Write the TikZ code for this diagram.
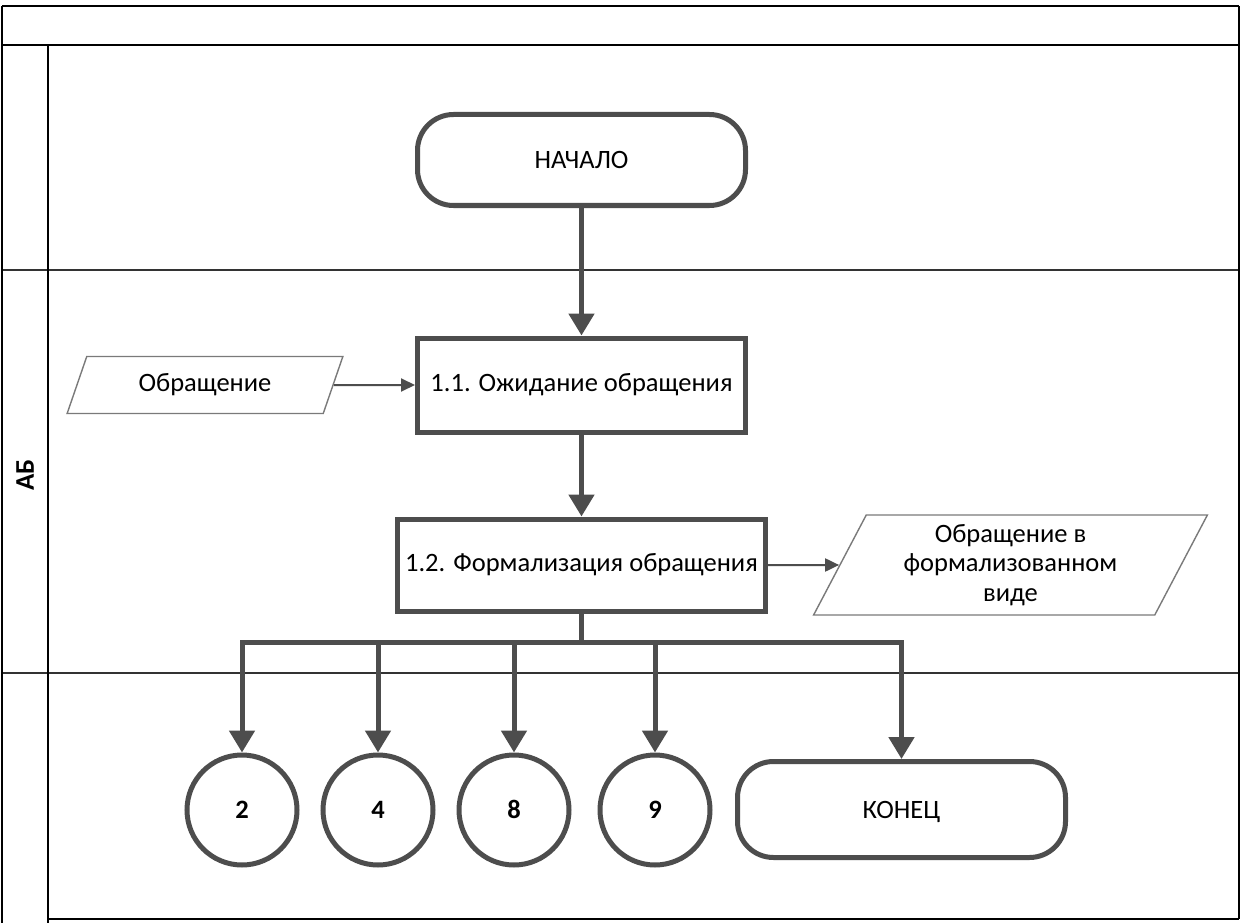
\documentclass[tikz,border=0pt]{standalone}
\usepackage{fontspec}
\setmainfont{Carlito}
\usetikzlibrary{arrows.meta,shapes.geometric}
\definecolor{dg}{HTML}{4D4D4D}
\definecolor{lg}{HTML}{7A7A7A}
\begin{document}
\begin{tikzpicture}[x=1pt,y=-1pt,
  txt/.style={font=\fontsize{26.5}{29.5}\selectfont},
  frameline/.style={line width=1.6pt,black},
  laneline/.style={line width=1.3pt,black!80},
  procbox/.style={txt,draw=dg,line width=5pt,rectangle,inner sep=0pt,align=center},
  termbox/.style={txt,draw=dg,line width=5pt,rectangle,rounded corners=36pt,inner sep=0pt,text height=17pt,text depth=0pt},
  linkcirc/.style={font=\fontsize{26.5}{29.5}\selectfont\bfseries,draw=dg,line width=5pt,circle,minimum size=110pt,inner sep=0pt,text height=17pt,text depth=0pt},
  iobox/.style={txt,draw=lg,line width=1.4pt,trapezium,trapezium stretches=true,inner sep=0pt,align=center},
  conn/.style={draw=dg,line width=5pt},
  connarrow/.style={conn,-{Triangle[length=22pt,width=25pt]}},
  thinarrow/.style={draw=dg,line width=2pt,-{Triangle[length=14pt,width=13pt]}}
]
\useasboundingbox (0,0) rectangle (1243,923);
\fill[white] (0,0) rectangle (1243,923);

% frame and lanes
\draw[frameline] (2,6) -- (1239,6);
\draw[frameline] (2,45) -- (1239,45);
\draw[laneline] (2,270) -- (1239,270);
\draw[laneline] (2,673) -- (1239,673);
\draw[frameline] (48,919) -- (1239,919);
\draw[frameline] (2,6) -- (2,923);
\draw[frameline] (48,45) -- (48,923);
\draw[frameline] (1239,6) -- (1239,919);

\node[font=\fontsize{27}{30}\selectfont\bfseries,rotate=90] (lane) at (25,475) {АБ};

% nodes
\node[termbox,minimum width=328pt,minimum height=91pt] (start) at (581.5,160) {НАЧАЛО};
\node[procbox,minimum width=328pt,minimum height=94pt] (b11) at (581.5,385) {1.1. Ожидание обращения};
\node[procbox,minimum width=368pt,minimum height=92pt] (b12) at (581.5,565) {1.2. Формализация обращения};
\node[iobox,trapezium left angle=63.8,trapezium right angle=116.2,minimum width=276pt,minimum height=57pt] (in) at (205,385) {Обращение};
\node[iobox,trapezium left angle=64.4,trapezium right angle=115.6,minimum width=395pt,minimum height=100pt] (out) at (1010.5,565) {Обращение в\\формализованном\\виде};

\node[linkcirc] (c2) at (242,810) {2};
\node[linkcirc] (c4) at (378,810) {4};
\node[linkcirc] (c8) at (514,810) {8};
\node[linkcirc] (c9) at (655,810) {9};
\node[termbox,minimum width=328pt,minimum height=96pt] (end) at (901.5,809.5) {КОНЕЦ};

\coordinate (br) at (581.5,642);

% connectors
\draw[connarrow] (start) -- (b11);
\draw[connarrow] (b11) -- (b12);
\draw[thinarrow] (in) -- (b11);
\draw[thinarrow] (b12.east) -- (out.west);
\draw[conn] (b12.south) -- (br);
\draw[connarrow] (br) -| (c2);
\draw[connarrow] (br) -| (c4);
\draw[connarrow] (br) -| (c8);
\draw[connarrow] (br) -| (c9);
\draw[connarrow] (br) -| (end);
\end{tikzpicture}
\end{document}
